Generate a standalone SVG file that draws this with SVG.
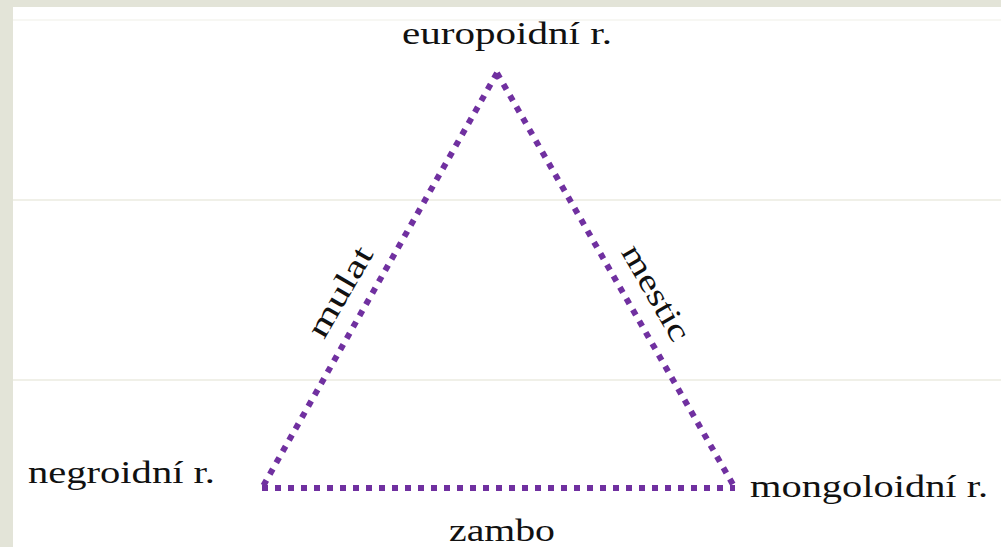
<svg xmlns="http://www.w3.org/2000/svg" width="1001" height="547" viewBox="0 0 1001 547">
<style>
.bg{fill:#e3e4d8}
.grid{stroke:#ebebe1;stroke-width:1.5}
.edge{fill:none;stroke:#7030a0;stroke-width:6;stroke-dasharray:6 7;stroke-linecap:butt}
.lbl{font-family:"Liberation Serif","DejaVu Serif",serif;font-size:32px;fill:#111}
</style>
<rect class="bg" x="0" y="0" width="1001" height="547"/>
<rect x="13" y="7" width="988" height="540" fill="#ffffff"/>
<line class="grid" x1="13" y1="20" x2="1001" y2="20" stroke-opacity="0.5"/>
<line class="grid" x1="13" y1="200" x2="1001" y2="200"/>
<line class="grid" x1="13" y1="380" x2="1001" y2="380"/>
<g id="connectors">
<line class="edge" x1="497" y1="73" x2="262" y2="488"/>
<line class="edge" x1="497" y1="73" x2="735" y2="488"/>
<line class="edge" x1="262" y1="488" x2="735" y2="488"/>
<text class="lbl" transform="translate(349,297) rotate(-60)" text-anchor="middle" textLength="100" lengthAdjust="spacingAndGlyphs">mulat</text>
<text class="lbl" transform="translate(647,298) rotate(60)" text-anchor="middle" textLength="106" lengthAdjust="spacingAndGlyphs">mestic</text>
<text class="lbl" x="449" y="541" textLength="106" lengthAdjust="spacingAndGlyphs">zambo</text>
</g>
<g id="europoidni"><text class="lbl" x="402" y="44" textLength="210" lengthAdjust="spacingAndGlyphs">europoidní r.</text></g>
<g id="negroidni"><text class="lbl" x="28" y="483" textLength="187" lengthAdjust="spacingAndGlyphs">negroidní r.</text></g>
<g id="mongoloidni"><text class="lbl" x="750" y="497" textLength="238" lengthAdjust="spacingAndGlyphs">mongoloidní r.</text></g>
</svg>
